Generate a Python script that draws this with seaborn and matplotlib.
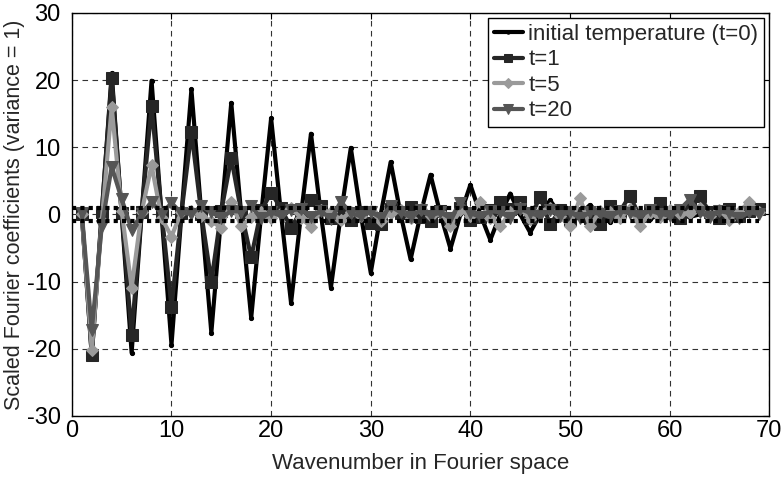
# -*- coding: utf-8 -*-

import pandas as pd
import matplotlib
matplotlib.use('Agg')
import matplotlib.pyplot as plt
import seaborn as sns

# wavenumbers 1..69
wavenumber = list(range(1, 70))

temp_t0 = [0, -21.0, 0, 21.0, 0, -20.6, 0, 19.9, 0, -19.4,
           0, 18.6, 0, -17.6, 0, 16.6, 0, -15.4, 0, 14.3,
           0, -13.2, 0, 12.0, 0, -10.9, 0, 9.9, 0, -8.7,
           0, 7.8, 0, -6.7, 0, 5.9, 0, -5.1, 0, 4.4,
           0, -3.8, 0, 3.1, 0, -2.7, 0, 2.1, 0, -1.6,
           0, 1.4, 0, -1.1, 0, 0.9, 0, -0.7, 0, 0.6,
           0, -0.4, 0, 0.3, 0, -0.3, 0, 0.2, 0]

temp_t1 = [0, -21.0, 0.3, 20.3, 0.2, -17.9, 0.3, 16.1, 0.4, -13.8,
           0.2, 12.3, 0.1, -10.0, 0.5, 8.4, 0.3, -6.4, 0.6, 3.2,
           0.9, -2.0, 0.5, 2.1, 1.2, -0.6, 0.3, -0.9, 0.4, -1.3,
           -1.4, 0.8, 0.2, 1.1, -0.4, -1.0, 0.5, -0.6, 1.0, -0.8,
           -0.4, 0.6, 1.9, 0.8, 1.8, -0.5, 2.6, -1.5, 0.6, -0.9,
           0.2, -0.6, -1.4, 1.3, 0.4, 2.8, -0.3, 0.5, 1.7, 0.2,
           -0.5, 0.9, 2.7, 0.4, -0.6, 0.8, -0.2, 0.5, 0.8]

temp_t5 = [0, -20.2, -1.0, 16.0, 0.5, -10.9, 0.3, 7.3, -0.5, -3.3,
           0.4, 0.5, -0.3, -1.0, -2.0, 1.9, -1.8, -0.4, 0.3, -0.6,
           0.2, 0.9, -0.5, -1.9, 0.6, 0.3, -0.8, 0.4, -0.3, 0.5,
           -1.0, 0.2, 0.6, -0.5, 0.8, -0.3, 0.4, -1.8, 0.6, -0.2,
           1.9, -0.6, -1.8, 0.3, 0.9, -0.7, 0.4, 1.0, -0.3, -1.8,
           2.4, -1.8, 0.5, 0.3, -0.6, 0.8, -1.8, 0.2, -0.4, 0.6,
           0.1, 0.2, 1.0, -0.3, 0.6, -0.8, 0.4, 1.9, 0.3]

temp_t20 = [0.2, -17.2, -1.8, 7.1, 2.3, -2.3, 0.0, 1.9, 0.1, 1.7,
            0.2, 0.1, 1.2, 0.3, -0.5, 0.5, 0.4, 1.2, -0.6, 0.3,
            -0.2, 0.6, 0.8, -0.4, 0.5, -0.7, 1.9, 0.2, -0.3, 0.4,
            -0.5, 1.2, 0.3, -0.4, 0.6, -0.2, 0.3, -0.6, 1.7, 0.2,
            -0.4, 0.5, 0.3, -0.5, 0.8, 0.2, -0.3, 0.6, -0.2, 0.4,
            -0.6, 0.3, 0.1, -0.4, 0.5, 0.2, -0.3, 0.6, 0.1, -0.2,
            0.7, 2.2, 0.3, -0.4, 0.5, 0.2, -0.5, 0.3, 0.1]

band = 1.0  # variance = 1 reference band

sns.set_style('white')
plt.rcParams['font.family'] = ['Liberation Sans', 'DejaVu Sans']
plt.rcParams['axes.unicode_minus'] = False

df = pd.DataFrame({'k': wavenumber, 't0': temp_t0, 't1': temp_t1,
                   't5': temp_t5, 't20': temp_t20})

fig = plt.figure(figsize=(7.81, 4.78), dpi=100)
ax = fig.add_axes([0.092, 0.130, 0.893, 0.843])

series = [
	('t0', 'initial temperature (t=0)', 'black', '.', 6),
	('t1', 't=1', '#262626', 's', 8),
	('t5', 't=5', '#9a9a9a', 'D', 6.5),
	('t20', 't=20', '#555555', 'v', 8.5),
]
for col, label, color, marker, ms in series:
	sns.lineplot(data=df, x='k', y=col, ax=ax, color=color, marker=marker,
	             markersize=ms, markeredgecolor=color, linewidth=3, label=label)

ax.axhline(band, xmin=0, xmax=69 / 70, color='black', linestyle=(0, (1, 1)), linewidth=3)
ax.axhline(-band, xmin=0, xmax=69 / 70, color='black', linestyle=(0, (1, 1)), linewidth=3)

ax.set_xlim(0, 70)
ax.set_ylim(-30, 30)
ax.set_xticks(range(0, 71, 10))
ax.set_yticks(range(-30, 31, 10))
ax.grid(True, color='#333333', linestyle=(0, (5, 4)), linewidth=0.8)
ax.tick_params(direction='in', top=True, right=True, length=4, width=0.8,
               labelsize=17, colors='black')
ax.tick_params(axis='x', pad=3)
ax.tick_params(axis='y', pad=8)
for sp in ax.spines.values():
	sp.set_color('black')
	sp.set_linewidth(1.0)

ax.set_xlabel('Wavenumber in Fourier space', fontsize=16, labelpad=8)
ax.set_ylabel('Scaled Fourier coefficients (variance = 1)', fontsize=15.5, labelpad=1)

leg = ax.legend(loc='upper right', fontsize=16, frameon=True, fancybox=False,
                handlelength=1.3, handletextpad=0.25, borderaxespad=0.25,
                borderpad=0.25, labelspacing=0.2, markerscale=0.8)
leg.get_frame().set_edgecolor('black')
leg.get_frame().set_linewidth(1.0)
leg.get_frame().set_alpha(1)

fig.savefig('out.png', dpi=100)
